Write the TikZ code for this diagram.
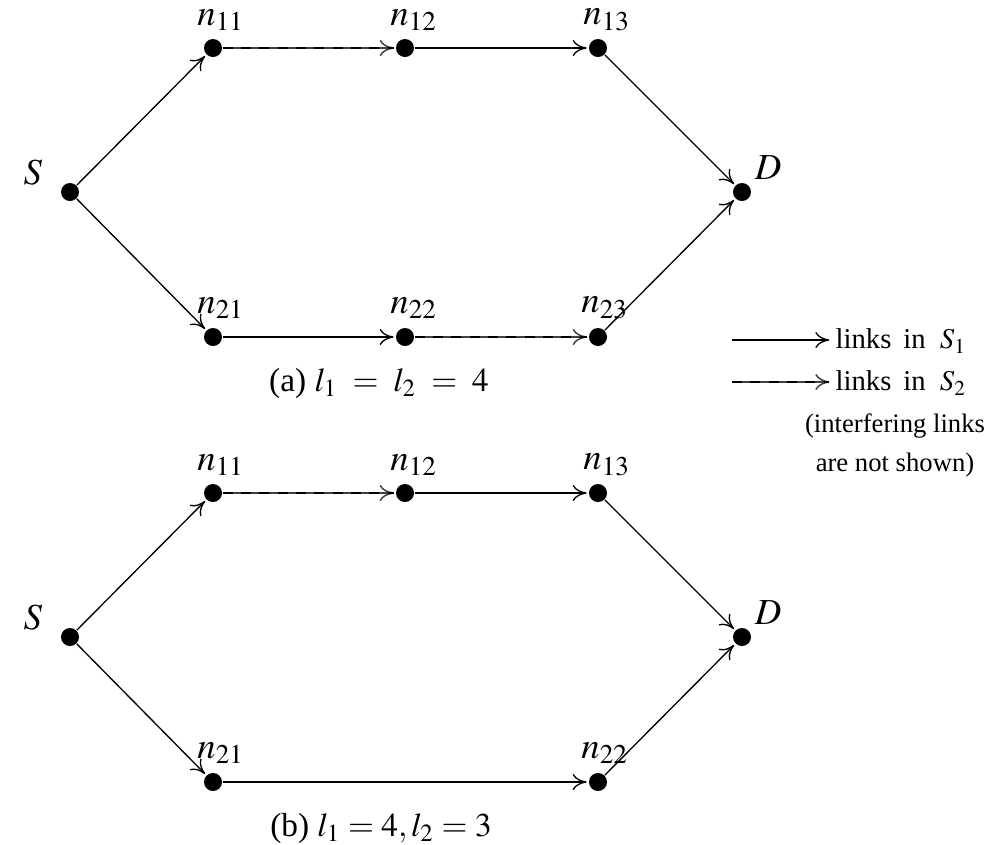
\documentclass[tikz,border=0pt]{standalone}
\usepackage{mathptmx}
\usepackage{fontspec}
\setmainfont{Liberation Serif}
\usetikzlibrary{arrows.meta}
\begin{document}
\begin{tikzpicture}[x=0.3pt,y=-0.3pt,
  dot/.style={circle,fill=black,inner sep=0pt,minimum size=5.4pt},
  lbl/.style={inner sep=0pt,font=\fontsize{10}{12}\selectfont},
  nlbl/.style={inner sep=0pt,font=\fontsize{11}{13}\selectfont},
  leg/.style={inner sep=0pt,font=\fontsize{8.6}{10}\selectfont},
  legs/.style={inner sep=0pt,font=\fontsize{8}{11.7}\selectfont},
  sone/.style={draw=black,line width=0.4pt,-{To[length=4.2pt,width=4.8pt]}},
  stwo/.style={draw=black!75,line width=0.45pt,-{To[length=4.2pt,width=4.8pt]},
     postaction={draw=black,dash pattern=on 3pt off 2.5pt,line width=0.4pt,-}},
  shorten >=0.5pt]
\useasboundingbox (0,0) rectangle (985,844);
% ---- diagram (a)
\node[dot] (aS) at (70,192) {};
\node[dot] (a11) at (213,48) {};
\node[dot] (a12) at (405,48) {};
\node[dot] (a13) at (598,48) {};
\node[dot] (aD) at (742,192) {};
\node[dot] (a21) at (213,337) {};
\node[dot] (a22) at (405,337) {};
\node[dot] (a23) at (598,337) {};
\node[nlbl] (laS) at (33,172) {$S$};
\node[nlbl] (laD) at (768,168) {$D$};
\node[nlbl] (la11) at (221,20) {$n_{11}$};
\node[nlbl] (la12) at (414,20) {$n_{12}$};
\node[nlbl] (la13) at (607,20) {$n_{13}$};
\node[nlbl] (la21) at (221,308) {$n_{21}$};
\node[nlbl] (la22) at (414,308) {$n_{22}$};
\node[nlbl] (la23) at (605,308) {$n_{23}$};
\draw[sone] (aS) -- (a11);
\draw[stwo] (a11) -- (a12);
\draw[sone] (a12) -- (a13);
\draw[sone] (a13) -- (aD);
\draw[sone] (aS) -- (a21);
\draw[sone] (a21) -- (a22);
\draw[stwo] (a22) -- (a23);
\draw[sone] (a23) -- (aD);
\node[lbl] (capa) at (379,383) {(a) $l_1\;=\;l_2\;=\;4$};
% ---- legend
\coordinate (lg1a) at (732,340);
\coordinate (lg1b) at (831,340);
\coordinate (lg2a) at (732,382);
\coordinate (lg2b) at (831,382);
\draw[sone] (lg1a) -- (lg1b);
\draw[stwo] (lg2a) -- (lg2b);
\node[leg,anchor=west] (lgt1) at (835,341) {links\ \,in\ \ $S_1$};
\node[leg,anchor=west] (lgt2) at (835,383) {links\ \,in\ \ $S_2$};
\node[legs,align=center] (lgt3) at (895,445) {(interfering links\\are not shown)};
% ---- diagram (b)
\node[dot] (bS) at (70,637) {};
\node[dot] (b11) at (213,493) {};
\node[dot] (b12) at (405,493) {};
\node[dot] (b13) at (598,493) {};
\node[dot] (bD) at (742,637) {};
\node[dot] (b21) at (213,782) {};
\node[dot] (b22) at (598,782) {};
\node[nlbl] (lbS) at (33,617) {$S$};
\node[nlbl] (lbD) at (768,613) {$D$};
\node[nlbl] (lb11) at (221,465) {$n_{11}$};
\node[nlbl] (lb12) at (414,465) {$n_{12}$};
\node[nlbl] (lb13) at (607,465) {$n_{13}$};
\node[nlbl] (lb21) at (221,753) {$n_{21}$};
\node[nlbl] (lb22) at (605,753) {$n_{22}$};
\draw[sone] (bS) -- (b11);
\draw[stwo] (b11) -- (b12);
\draw[sone] (b12) -- (b13);
\draw[sone] (b13) -- (bD);
\draw[sone] (bS) -- (b21);
\draw[sone] (b21) -- (b22);
\draw[sone] (b22) -- (bD);
\node[lbl] (capb) at (381,828) {(b) $l_1=4, l_2=3$};
\end{tikzpicture}
\end{document}
